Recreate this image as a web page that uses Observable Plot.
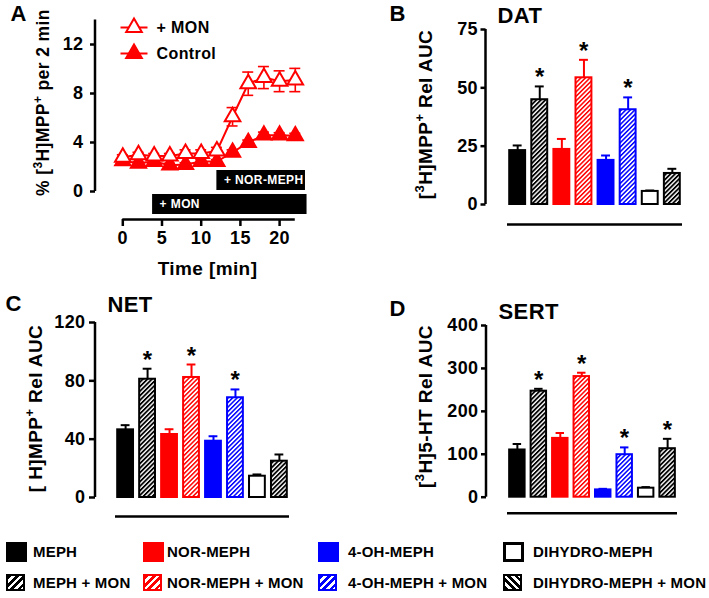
<!DOCTYPE html>
<html>
<head>
<meta charset="utf-8">
<script src="https://cdn.jsdelivr.net/npm/d3@7"></script>
<script src="https://cdn.jsdelivr.net/npm/@observablehq/plot@0.6"></script>
<style>
  body { margin: 0; background: #fff; }
  #fig { position: relative; width: 709px; height: 598px; overflow: hidden; background: #fff;
         font-family: "Liberation Sans", Arial, Helvetica, sans-serif; font-weight: bold; color: #000; }
  .lg-swatch { position: absolute; box-sizing: border-box; }
  .lg-text { position: absolute; font-size: 15px; line-height: 18px; white-space: nowrap; letter-spacing: 0.2px; }
</style>
</head>
<body>
<svg width="0" height="0" style="position:absolute">
  <defs>
    <pattern id="hatch-black" width="3.2" height="3.2" patternUnits="userSpaceOnUse" patternTransform="rotate(45)">
      <rect width="3.2" height="3.2" fill="#fff"/><rect width="1.8" height="3.2" fill="#000"/>
    </pattern>
    <pattern id="hatch-red" width="3.2" height="3.2" patternUnits="userSpaceOnUse" patternTransform="rotate(45)">
      <rect width="3.2" height="3.2" fill="#fff"/><rect width="1.5" height="3.2" fill="#ff0000"/>
    </pattern>
    <pattern id="hatch-blue" width="3.2" height="3.2" patternUnits="userSpaceOnUse" patternTransform="rotate(45)">
      <rect width="3.2" height="3.2" fill="#fff"/><rect width="1.5" height="3.2" fill="#0000ff"/>
    </pattern>
  </defs>
</svg>
<div id="fig"></div>
<script>
// ---------------- DATA ----------------
// Panel A: time course of [3H]MPP+ efflux (% per 2 min)
const times = [0, 2, 4, 6, 8, 10, 12, 14, 16, 18, 20, 22];
const monValues = [2.8, 3.0, 2.9, 2.9, 3.1, 3.1, 3.3, 6.1, 8.8, 9.3, 9.0, 9.1];
const monErrors = [0.2, 0.2, 0.2, 0.2, 0.3, 0.3, 0.3, 0.75, 0.95, 0.9, 0.85, 0.95];
const controlValues = [2.5, 2.3, 2.45, 2.15, 2.2, 2.45, 2.45, 3.2, 4.0, 4.6, 4.6, 4.55];
const controlErrors = [0.15, 0.15, 0.15, 0.15, 0.15, 0.15, 0.15, 0.2, 0.2, 0.25, 0.2, 0.2];
const seriesNames = ["+ MON", "Control"];
const treatmentLabels = ["+ NOR-MEPH", "+ MON"];
const treatmentStart = [12, 3.8];
const treatmentEnd = [23.3, 23.5];
const timeTicks = [0, 5, 10, 15, 20];
const effluxTicks = [0, 4, 8, 12];
const effluxAxisTop = 14;

// Panels B-D: relative AUC
const categories = ["MEPH", "MEPH + MON", "NOR-MEPH", "NOR-MEPH + MON",
                    "4-OH-MEPH", "4-OH-MEPH + MON", "DIHYDRO-MEPH", "DIHYDRO-MEPH + MON"];
const datValues = [23.1, 44.9, 23.6, 54.3, 18.9, 40.6, 5.6, 13.3];
const datErrors = [2.2, 5.7, 4.5, 7.7, 2.1, 5.3, 0.4, 2.0];
const datSignificant = [false, true, false, true, false, true, false, false];
const datTicks = [0, 25, 50, 75];

const netValues = [46.4, 81.1, 43.2, 82.3, 38.6, 68.4, 14.6, 24.9];
const netErrors = [3.2, 7.2, 3.6, 8.9, 3.4, 5.7, 1.2, 4.6];
const netSignificant = [false, true, false, true, false, true, false, false];
const netTicks = [0, 40, 80, 120];

const sertValues = [110, 247, 137, 281, 17, 99, 21, 113];
const sertErrors = [14, 5.5, 12.5, 9, 2.5, 17, 2.5, 23];
const sertSignificant = [false, true, false, true, false, true, false, true];
const sertTicks = [0, 100, 200, 300, 400];

// ---------------- STYLE ----------------
const RED = "#ff0000", BLUE = "#0000ff", BLACK = "#000000";
const FONT = '"Liberation Sans", Arial, Helvetica, sans-serif';
const TICK_FONT = 18, LABEL_FONT = 19, TITLE_FONT = 22;
const groupColor = {"MEPH": BLACK, "NOR-MEPH": RED, "4-OH-MEPH": BLUE, "DIHYDRO-MEPH": BLACK};
const groupHatch = {"MEPH": "hatch-black", "NOR-MEPH": "hatch-red", "4-OH-MEPH": "hatch-blue", "DIHYDRO-MEPH": "hatch-black"};
const baseOf = c => c.replace(" + MON", "");
const isMon = c => c.endsWith("+ MON");
const strokeOf = c => groupColor[baseOf(c)];
const fillOf = c => isMon(c) ? `url(#${groupHatch[baseOf(c)]})` : (baseOf(c) === "DIHYDRO-MEPH" ? "#ffffff" : groupColor[baseOf(c)]);

const ns = "http://www.w3.org/2000/svg";
const fig = document.getElementById("fig");

function baseStyle() {
  return {fontFamily: FONT, fontWeight: "bold", fontSize: "17px", letterSpacing: "0.4px",
          background: "transparent", overflow: "visible", color: "#000"};
}

// vertical axis line drawn only over the labelled part of the y scale
const axisLineY = (lo, hi) => (index, scales, values, dims) => {
  const l = document.createElementNS(ns, "line");
  l.setAttribute("x1", dims.marginLeft); l.setAttribute("x2", dims.marginLeft);
  l.setAttribute("y1", scales.y(lo)); l.setAttribute("y2", scales.y(hi));
  l.setAttribute("stroke", "#000"); l.setAttribute("stroke-width", 2.5);
  return l;
};

// "^x" marks a superscript character
function applySup(svg) {
  d3.select(svg).selectAll("text").each(function () {
    const s = this.textContent;
    if (!s.includes("^")) return;
    const fs = parseFloat(getComputedStyle(this).fontSize) || 17;
    const shift = fs * 0.38;
    const parts = s.split(/(\^.)/).filter(p => p.length);
    this.textContent = "";
    let up = false;
    for (const p of parts) {
      const ts = document.createElementNS(ns, "tspan");
      if (p[0] === "^") {
        ts.textContent = p[1];
        ts.setAttribute("font-size", fs * 0.68);
        if (!up) { ts.setAttribute("dy", -shift); up = true; }
      } else {
        ts.textContent = p;
        if (up) { ts.setAttribute("dy", shift); up = false; }
      }
      this.appendChild(ts);
    }
  });
}

function place(el, left, top) {
  el.style.position = "absolute";
  el.style.left = left + "px";
  el.style.top = top + "px";
  fig.appendChild(el);
  applySup(el);
}

// ---------------- PANEL A ----------------
(function panelA() {
  const G = {left: 0, top: 0, width: 345, height: 290, axisX: 95, frameRight: 310, frameTop: 19,
             zeroY: 191, baseY: 219, timeZeroX: 122.3, pxPerMin: 7.84, pxPerUnit: 12.25};
  const xFromPx = px => (px - G.timeZeroX) / G.pxPerMin;
  const yFromPx = py => (G.zeroY - py) / G.pxPerUnit;
  const xDom = [xFromPx(G.axisX), xFromPx(G.frameRight)];
  const yDom = [yFromPx(G.baseY), yFromPx(G.frameTop)];
  const at = (px, py) => ({frameAnchor: "top-left", dx: px - G.axisX, dy: py - G.frameTop});

  const mon = times.map((t, i) => ({t, v: monValues[i], e: monErrors[i]}));
  const ctl = times.map((t, i) => ({t, v: controlValues[i], e: controlErrors[i]}));
  const allErr = [...mon, ...ctl];
  const capHalf = 0.7;

  const treatRowPx = [[170, 190], [194, 214]];
  const treat = treatmentLabels.map((label, i) => ({
    label, start: treatmentStart[i], end: treatmentEnd[i],
    y1: yFromPx(treatRowPx[i][1]), y2: yFromPx(treatRowPx[i][0]),
    ym: yFromPx((treatRowPx[i][0] + treatRowPx[i][1]) / 2)
  }));

  const legRowPx = [27, 53];
  const leg = seriesNames.map((s, i) => ({
    s, y: yFromPx(legRowPx[i]), x1: xFromPx(120), x2: xFromPx(147), xm: xFromPx(133.5), xt: xFromPx(156),
    fill: i === 0 ? "#ffffff" : RED
  }));

  const plot = Plot.plot({
    width: G.width, height: G.height,
    marginLeft: G.axisX - G.left, marginRight: G.left + G.width - G.frameRight,
    marginTop: G.frameTop - G.top, marginBottom: G.top + G.height - G.baseY,
    style: baseStyle(),
    x: {domain: xDom},
    y: {domain: yDom},
    color: {type: "identity"},
    marks: [
      axisLineY(0, effluxAxisTop),
      Plot.axisY({ticks: effluxTicks, tickSize: 5, tickPadding: 7, strokeWidth: 2.5, fontSize: TICK_FONT, label: null, tickFormat: d => String(d)}),
      Plot.ruleY([yDom[0]], {x1: d3.min(times), x2: d3.max(times), strokeWidth: 2.5}),
      Plot.axisX({ticks: timeTicks, tickSize: 7, tickPadding: 5, strokeWidth: 2.5, fontSize: TICK_FONT, label: null, tickFormat: d => String(d)}),
      Plot.rect(treat, {x1: "start", x2: "end", y1: "y1", y2: "y2", fill: "#000000"}),
      Plot.text(treat, {x: "start", y: "ym", text: "label", dx: 7, textAnchor: "start", fill: "#ffffff", fontSize: 12}),
      Plot.ruleX(allErr, {x: "t", y1: d => d.v - d.e, y2: d => d.v + d.e, stroke: RED, strokeWidth: 1.6}),
      Plot.ruleY(allErr, {y: d => d.v + d.e, x1: d => d.t - capHalf, x2: d => d.t + capHalf, stroke: RED, strokeWidth: 1.6}),
      Plot.ruleY(allErr, {y: d => d.v - d.e, x1: d => d.t - capHalf, x2: d => d.t + capHalf, stroke: RED, strokeWidth: 1.6}),
      Plot.line(ctl, {x: "t", y: "v", stroke: RED, strokeWidth: 2}),
      Plot.dot(ctl, {x: "t", y: "v", symbol: "triangle", r: 5.8, fill: RED, stroke: RED, strokeWidth: 1.8}),
      Plot.line(mon, {x: "t", y: "v", stroke: RED, strokeWidth: 2}),
      Plot.dot(mon, {x: "t", y: "v", symbol: "triangle", r: 5.8, fill: "#ffffff", stroke: RED, strokeWidth: 2}),
      Plot.link(leg, {x1: "x1", x2: "x2", y1: "y", y2: "y", stroke: RED, strokeWidth: 2}),
      Plot.dot(leg, {x: "xm", y: "y", symbol: "triangle", r: 5.8, fill: "fill", stroke: RED, strokeWidth: 2}),
      Plot.text(leg, {x: "xt", y: "y", text: "s", textAnchor: "start", fontSize: 16}),
      Plot.text(["Time [min]"], {...at(207, 274), text: d => d, textAnchor: "middle", lineAnchor: "bottom", fontSize: LABEL_FONT}),
      Plot.text(["% [^3H]MPP^+ per 2 min"], {...at(43, 102), text: d => d, rotate: -90, textAnchor: "middle", lineAnchor: "middle", fontSize: 17.5}),
      Plot.text(["A"], {...at(10, 20), text: d => d, textAnchor: "start", lineAnchor: "bottom", fontSize: TITLE_FONT})
    ]
  });
  place(plot, G.left, G.top);
})();

// ---------------- PANELS B-D ----------------
function barPanel(values, errors, significant, ticks, letter, title, ylabel, G) {
  const yMax = ticks[ticks.length - 1];
  const pxPerUnit = (G.zeroY - G.yTopPx) / yMax;
  const yMin = -(G.baseY - G.zeroY) / pxPerUnit;
  const inset = G.lineLeft - G.axisX;
  const at = (px, py) => ({frameAnchor: "top-left", dx: px - G.axisX, dy: py - G.yTopPx});
  const rows = categories.map((c, i) => ({cat: c, v: values[i], hi: values[i] + errors[i], sig: significant[i]}));

  const plot = Plot.plot({
    width: G.width, height: G.height,
    marginLeft: G.axisX - G.left, marginRight: G.left + G.width - G.lineRight,
    marginTop: G.yTopPx - G.top, marginBottom: G.top + G.height - G.baseY,
    style: baseStyle(),
    x: {type: "band", domain: categories, paddingInner: 0.28, paddingOuter: 0.1, insetLeft: inset, round: false, axis: null},
    y: {domain: [yMin, yMax], axis: null},
    color: {type: "identity"},
    marks: [
      Plot.ruleY([yMin], {insetLeft: inset, strokeWidth: 2.5}),
      axisLineY(0, yMax),
      Plot.axisY({ticks, tickSize: G.tickSize, tickPadding: G.tickPadding, strokeWidth: 2.5, fontSize: TICK_FONT, label: null, tickFormat: d => String(d)}),
      Plot.ruleX(rows, {x: "cat", y1: "v", y2: "hi", stroke: d => strokeOf(d.cat), strokeWidth: 2}),
      Plot.tickY(rows, {x: "cat", y: "hi", stroke: d => strokeOf(d.cat), strokeWidth: 2, insetLeft: 3.5, insetRight: 3.5}),
      Plot.barY(rows, {x: "cat", y: "v", fill: d => fillOf(d.cat), stroke: d => strokeOf(d.cat), strokeWidth: 2}),
      Plot.text(rows.filter(d => d.sig), {x: "cat", y: "hi", text: () => "*", lineAnchor: "bottom", dy: -1, fontSize: 24}),
      Plot.text([letter], {...at(G.letterX, G.letterBase), text: d => d, textAnchor: "start", lineAnchor: "bottom", fontSize: TITLE_FONT}),
      Plot.text([title], {...at(G.titleX, G.titleBase), text: d => d, textAnchor: "start", lineAnchor: "bottom", fontSize: TITLE_FONT}),
      Plot.text([ylabel], {...at(G.labelX, G.labelY), text: d => d, rotate: -90, textAnchor: "middle", lineAnchor: "middle", fontSize: LABEL_FONT})
    ]
  });
  place(plot, G.left, G.top);
}

barPanel(datValues, datErrors, datSignificant, datTicks, "B", "DAT", "[^3H]MPP^+ Rel AUC",
  {left: 350, top: 0, width: 359, height: 290, axisX: 485.5, yTopPx: 29, zeroY: 204, baseY: 224,
   lineLeft: 507, lineRight: 682, tickSize: 5, tickPadding: 3,
   letterX: 389, letterBase: 20, titleX: 497, titleBase: 22, labelX: 425, labelY: 114});

barPanel(netValues, netErrors, netSignificant, netTicks, "C", "NET", "[ H]MPP^+ Rel AUC",
  {left: 0, top: 290, width: 345, height: 232, axisX: 95, yTopPx: 322, zeroY: 497, baseY: 516,
   lineLeft: 115, lineRight: 289, tickSize: 6, tickPadding: 4,
   letterX: 5, letterBase: 310, titleX: 107, titleBase: 311, labelX: 35, labelY: 408});

barPanel(sertValues, sertErrors, sertSignificant, sertTicks, "D", "SERT", "[^3H]5-HT Rel AUC",
  {left: 350, top: 290, width: 359, height: 232, axisX: 486, yTopPx: 325, zeroY: 496.7, baseY: 512.7,
   lineLeft: 507, lineRight: 677, tickSize: 5, tickPadding: 3,
   letterX: 389, letterBase: 315, titleX: 498, titleBase: 318, labelX: 425, labelY: 406});

// ---------------- LEGEND ----------------
(function legend() {
  const colLeft = [6, 143, 318, 503];
  const textLeft = [33, 167, 348, 533];
  const rowSwatch = [{top: 542, w: 21, h: 20}, {top: 574, w: 19, h: 17}];
  const rowTextCenter = [552, 583];
  categories.forEach((c, i) => {
    const col = Math.floor(i / 2), row = i % 2;
    const sw = document.createElement("div");
    sw.className = "lg-swatch";
    const R = rowSwatch[row];
    Object.assign(sw.style, {left: colLeft[col] + "px", top: R.top + "px", width: R.w + "px", height: R.h + "px"});
    const col0 = strokeOf(c);
    if (!isMon(c)) {
      if (baseOf(c) === "DIHYDRO-MEPH") { sw.style.background = "#fff"; sw.style.border = "3px solid #000"; }
      else sw.style.background = col0;
    } else {
      const ang = baseOf(c) === "DIHYDRO-MEPH" ? 45 : 135;
      sw.style.border = `2px solid ${col0}`;
      sw.style.background = `repeating-linear-gradient(${ang}deg, ${col0} 0px, ${col0} 2.6px, #fff 2.6px, #fff 5.2px)`;
    }
    fig.appendChild(sw);
    const tx = document.createElement("div");
    tx.className = "lg-text";
    tx.textContent = c;
    Object.assign(tx.style, {left: textLeft[col] + "px", top: (rowTextCenter[row] - 9) + "px"});
    fig.appendChild(tx);
  });
})();
</script>
</body>
</html>
